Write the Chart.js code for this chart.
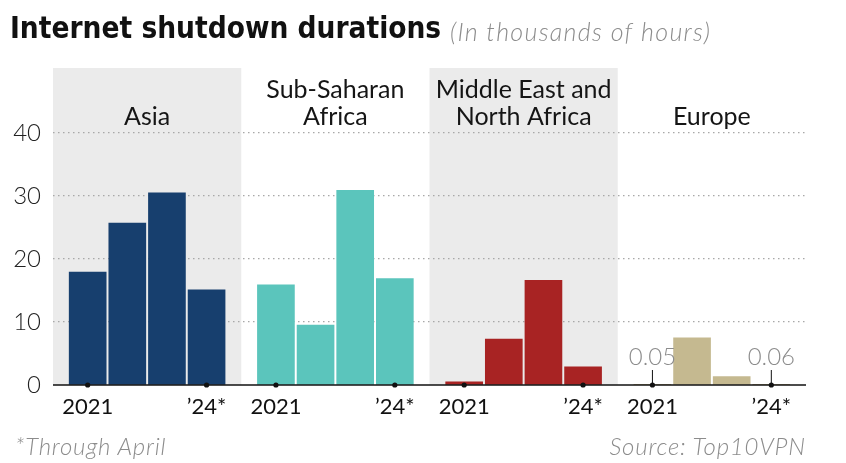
<!DOCTYPE html>
<html><head><meta charset="utf-8">
<script src="https://cdn.jsdelivr.net/npm/chart.js@4/dist/chart.umd.min.js"></script>
<style>
html,body{margin:0;padding:0;background:#fff;}
#wrap{position:relative;width:846px;height:463px;overflow:hidden;}
#c{position:absolute;left:0;top:0;}
.t{position:absolute;white-space:nowrap;line-height:1;}
#title{left:10px;top:11px;font:bold 29.5px "Liberation Sans Narrow","DejaVu Sans Condensed",sans-serif;color:#111;}
#sub{left:450px;top:16px;font:italic 300 25px Lato,sans-serif;letter-spacing:1.3px;color:#8c8c8c;}
#note{left:15px;top:431px;font:italic 300 24px Lato,sans-serif;letter-spacing:0.8px;color:#8c8c8c;}
#src{right:40px;top:431px;font:italic 300 24px Lato,sans-serif;letter-spacing:0.8px;color:#8c8c8c;}
</style></head>
<body><div id="wrap">
<canvas id="c" width="846" height="463"></canvas>
<div class="t" id="title">Internet shutdown durations</div>
<div class="t" id="sub">(In thousands of hours)</div>
<div class="t" id="note">*Through April</div>
<div class="t" id="src">Source: Top10VPN</div>
</div>
<script>
// ---- data ----
const regions = ['Asia', 'Sub-Saharan Africa', 'Middle East and North Africa', 'Europe'];
const regionLabelLines = [['Asia'], ['Sub-Saharan', 'Africa'], ['Middle East and', 'North Africa'], ['Europe']];
const years = ['2021', '2022', '2023', '2024*'];
const yearTickLabels = ['2021', '', '', '\u201924*'];
const asia = [17.9, 25.7, 30.5, 15.1];
const subSaharanAfrica = [15.9, 9.5, 30.9, 16.9];
const middleEastNorthAfrica = [0.5, 7.3, 16.6, 2.9];
const europe = [0.05, 7.5, 1.35, 0.06];
const yTickValues = [0, 10, 20, 30, 40];
const regionColors = ['#173f6e', '#5bc5bc', '#a82323', '#c5b990'];
const shadedPanels = [true, false, true, false];

// ---- layout helpers ----
const PANEL = 4.75; // panel width in bar slots
const seriesValues = [asia, subSaharanAfrica, middleEastNorthAfrica, europe];
function slotX(g, i) { return g * PANEL + PANEL / 2 + (i - 1.5); }

const datasets = regions.map((r, g) => ({
  label: r,
  data: seriesValues[g].map((v, i) => ({ x: slotX(g, i), y: v })),
  backgroundColor: regionColors[g],
  borderWidth: 0,
  barThickness: 37,
  grouped: false
}));

const FONT = 'Lato, sans-serif';

const decor = {
  id: 'decor',
  beforeDraw(chart) {
    const { ctx, chartArea: a, scales: { x } } = chart;
    ctx.save();
    ctx.fillStyle = '#ebebeb';
    regions.forEach((r, g) => {
      if (!shadedPanels[g]) return;
      const x0 = x.getPixelForValue(g * PANEL), x1 = x.getPixelForValue((g + 1) * PANEL);
      ctx.fillRect(x0, a.top, x1 - x0, a.bottom - a.top);
    });
    ctx.restore();
  },
  afterDraw(chart) {
    const { ctx, chartArea: a, scales: { x, y } } = chart;
    const y0 = y.getPixelForValue(0);
    ctx.save();
    // baseline
    ctx.strokeStyle = '#111';
    ctx.lineWidth = 1.5;
    ctx.beginPath(); ctx.moveTo(a.left, y0); ctx.lineTo(a.right, y0); ctx.stroke();
    // region labels
    ctx.fillStyle = '#151515';
    ctx.font = '25px ' + FONT;
    ctx.textAlign = 'center';
    ctx.textBaseline = 'middle';
    regionLabelLines.forEach((lines, g) => {
      const cx = x.getPixelForValue(g * PANEL + PANEL / 2);
      const n = lines.length;
      lines.forEach((ln, k) => {
        ctx.fillText(ln, cx, 117 - (n - 1 - k) * 27);
      });
    });
    // year ticks, dots and tiny-value annotations
    seriesValues.forEach((vals, g) => {
      vals.forEach((v, i) => {
        const px = x.getPixelForValue(slotX(g, i));
        if (v < 0.1) {
          ctx.strokeStyle = '#111'; ctx.lineWidth = 1;
          ctx.beginPath(); ctx.moveTo(px, y0 - 15); ctx.lineTo(px, y0); ctx.stroke();
          ctx.fillStyle = '#8c8c8c';
          ctx.font = '300 24px ' + FONT;
          ctx.fillText(String(v), px, y0 - 28);
        }
        if (yearTickLabels[i]) {
          ctx.fillStyle = '#111';
          ctx.beginPath(); ctx.arc(px, y0, 2.6, 0, Math.PI * 2); ctx.fill();
          ctx.font = '22px ' + FONT;
          ctx.fillText(yearTickLabels[i], px, y0 + 22);
        }
      });
    });
    ctx.restore();
  }
};

new Chart(document.getElementById('c'), {
  type: 'bar',
  data: { datasets },
  options: {
    responsive: false,
    animation: false,
    layout: { padding: { left: 0, right: 40, top: 68, bottom: 78 } },
    plugins: { legend: { display: false }, tooltip: { enabled: false }, title: { display: false } },
    scales: {
      x: { type: 'linear', min: 0, max: PANEL * 4, offset: false, display: false },
      y: {
        min: 0, max: 50.3,
        z: 1,
        afterBuildTicks(s) { s.ticks = yTickValues.map(v => ({ value: v })); },
        afterFit(s) { s.width = 53; },
        border: { display: false, dash: [1.5, 3.5] },
        grid: {
          drawTicks: false,
          color: c => (c.tick && c.tick.value === 0) ? 'rgba(0,0,0,0)' : '#a8a8a8',
          lineWidth: 1.2
        },
        ticks: { padding: 12, color: '#222', font: { family: 'Lato', size: 24, weight: 300 } }
      }
    }
  },
  plugins: [decor]
});
</script>
</body></html>
